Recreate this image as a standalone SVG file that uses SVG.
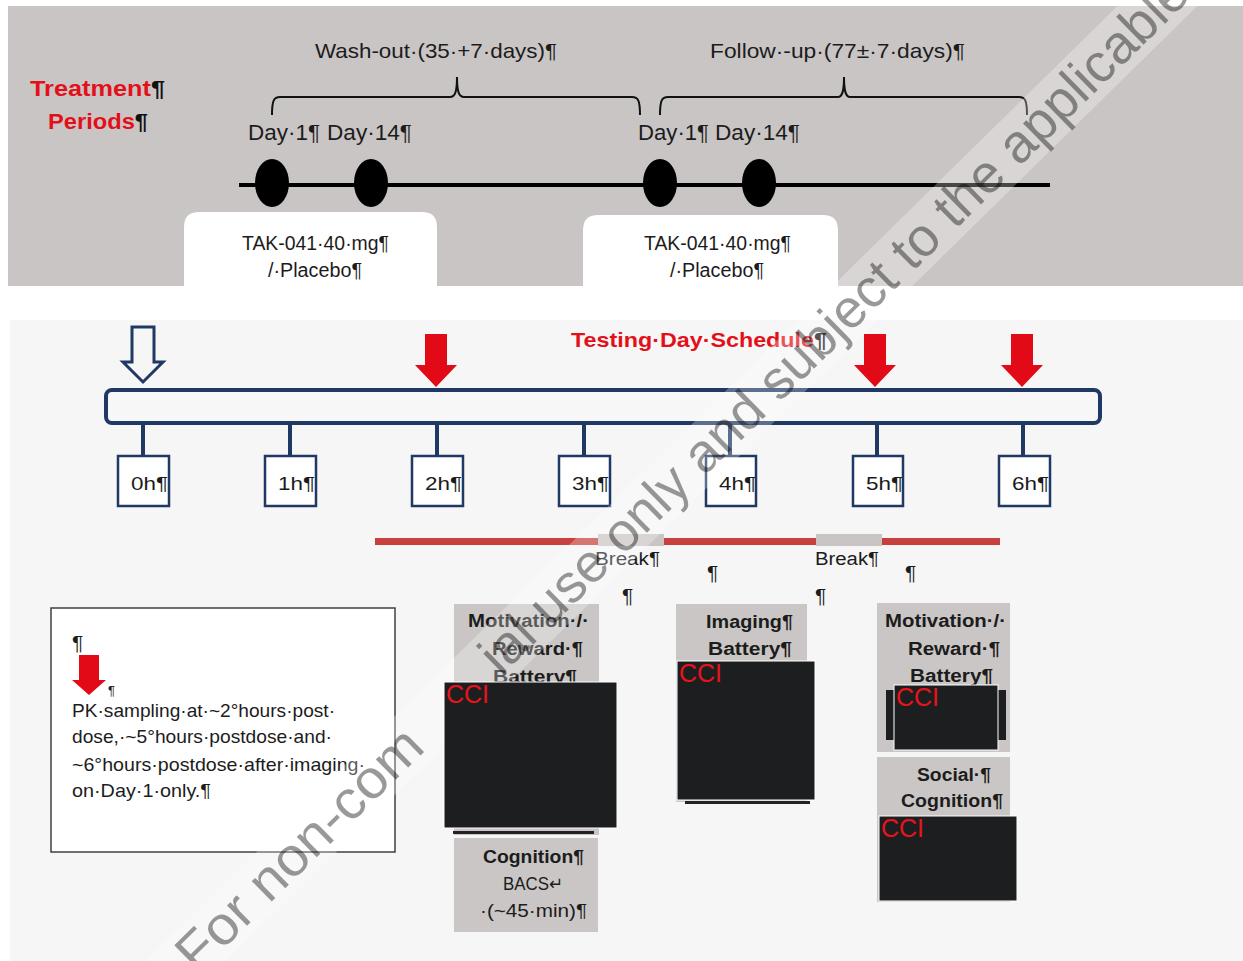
<svg xmlns="http://www.w3.org/2000/svg" width="1243" height="961" viewBox="0 0 1243 961">
<style>
 text{font-family:"Liberation Sans",Arial,sans-serif;fill:#1c1c1c}
 .red{fill:#E3101A;font-weight:bold}
 .pil{fill:#111}
 .b{font-weight:bold}
 .gbox{fill:#CAC6C5}
 .blk{fill:#1D1E20;stroke:#fff;stroke-width:1}
 .cci{fill:#E8141B;font-size:25px}
 .hb{fill:#fff;stroke:#1F3864;stroke-width:2.5}
 .tick{stroke:#1F3864;stroke-width:4}
 .br{fill:none;stroke:#111;stroke-width:2}
 .wm{font-size:54px;fill:#000;fill-opacity:0.4}
</style>
<defs>
 <path id="rarrow" d="M-11,-53H11V-22H21L0,0L-21,-22H-11Z" fill="#E30A17"/>
</defs>
<rect x="0" y="0" width="1243" height="961" fill="#fff"/>
<g id="top-panel">
 <rect x="8" y="6" width="1235" height="280" fill="#C9C5C4"/>
 <line x1="239" y1="185" x2="1050" y2="185" stroke="#000" stroke-width="4"/>
</g>
<g id="treatment-label">
 <text x="30" y="96" font-size="22" textLength="135" lengthAdjust="spacingAndGlyphs" class="red">Treatment<tspan class="pil">¶</tspan></text>
 <text x="48" y="129" font-size="22" textLength="100" lengthAdjust="spacingAndGlyphs" class="red">Periods<tspan class="pil">¶</tspan></text>
</g>
<g id="washout">
 <text x="315" y="58" font-size="21" textLength="242" lengthAdjust="spacingAndGlyphs">Wash-out·(35·+7·days)¶</text>
 <path class="br" d="M272,115C272,100 274,97 280,97L450,97C455,97 457,92 457,77C457,92 459,97 464,97L632,97C638,97 640,100 640,115"/>
</g>
<g id="followup">
 <text x="710" y="58" font-size="21" textLength="255" lengthAdjust="spacingAndGlyphs">Follow·-up·(77±·7·days)¶</text>
 <path class="br" d="M660,115C660,100 662,97 668,97L838,97C842,97 844,92 844,77C844,92 846,97 850,97L1019,97C1025,97 1027,100 1027,115"/>
</g>
<g id="period1">
 <text x="248" y="140" font-size="22" textLength="72" lengthAdjust="spacingAndGlyphs">Day·1¶</text>
 <text x="327" y="140" font-size="22" textLength="85" lengthAdjust="spacingAndGlyphs">Day·14¶</text>
 <ellipse cx="272" cy="183" rx="17" ry="24" fill="#000"/>
 <ellipse cx="371" cy="183" rx="17" ry="24" fill="#000"/>
 <path d="M184,287V227Q184,212 199,212H422Q437,212 437,227V287Z" fill="#fff"/>
 <text x="242" y="250" font-size="20" textLength="147" lengthAdjust="spacingAndGlyphs">TAK-041·40·mg¶</text>
 <text x="268" y="277" font-size="20" textLength="94" lengthAdjust="spacingAndGlyphs">/·Placebo¶</text>
</g>
<g id="period2">
 <text x="638" y="140" font-size="22" textLength="71" lengthAdjust="spacingAndGlyphs">Day·1¶</text>
 <text x="715" y="140" font-size="22" textLength="85" lengthAdjust="spacingAndGlyphs">Day·14¶</text>
 <ellipse cx="660" cy="183" rx="17" ry="24" fill="#000"/>
 <ellipse cx="759" cy="183" rx="17" ry="24" fill="#000"/>
 <path d="M583,287V230Q583,215 598,215H823Q838,215 838,230V287Z" fill="#fff"/>
 <text x="644" y="250" font-size="20" textLength="147" lengthAdjust="spacingAndGlyphs">TAK-041·40·mg¶</text>
 <text x="670" y="277" font-size="20" textLength="94" lengthAdjust="spacingAndGlyphs">/·Placebo¶</text>
</g>
<g id="bottom-panel">
 <rect x="10" y="320" width="1233" height="641" fill="#F6F6F6"/>
</g>
<g id="testing-title">
 <text x="571" y="347" font-size="21" textLength="256" lengthAdjust="spacingAndGlyphs" class="red">Testing·Day·Schedule<tspan class="pil">¶</tspan></text>
</g>
<g id="dose-arrow">
 <path d="M132,327H154V362H163L143,382L123,362H132Z" fill="#F6F6F6" stroke="#1F3864" stroke-width="3"/>
</g>
<g id="pk-arrows">
 <use href="#rarrow" x="436" y="387"/>
 <use href="#rarrow" x="875" y="387"/>
 <use href="#rarrow" x="1022" y="387"/>
</g>
<g id="timeline-bar">
 <rect x="106" y="390" width="994" height="33" rx="6" fill="#F7F7F7" stroke="#1F3864" stroke-width="4"/>
</g>
<g id="connectors">
 <line class="tick" x1="143" y1="423" x2="143" y2="457"/>
 <line class="tick" x1="290" y1="423" x2="290" y2="457"/>
 <line class="tick" x1="437" y1="423" x2="437" y2="457"/>
 <line class="tick" x1="584" y1="423" x2="584" y2="457"/>
 <line class="tick" x1="730" y1="423" x2="730" y2="457"/>
 <line class="tick" x1="877" y1="423" x2="877" y2="457"/>
 <line class="tick" x1="1023" y1="423" x2="1023" y2="457"/>
</g>
<g id="hour-0h"><rect class="hb" x="118" y="456" width="51" height="50"/><text x="131" y="490" font-size="19" textLength="37" lengthAdjust="spacingAndGlyphs">0h¶</text></g>
<g id="hour-1h"><rect class="hb" x="265" y="456" width="51" height="50"/><text x="278" y="490" font-size="19" textLength="37" lengthAdjust="spacingAndGlyphs">1h¶</text></g>
<g id="hour-2h"><rect class="hb" x="412" y="456" width="51" height="50"/><text x="425" y="490" font-size="19" textLength="37" lengthAdjust="spacingAndGlyphs">2h¶</text></g>
<g id="hour-3h"><rect class="hb" x="559" y="456" width="51" height="50"/><text x="572" y="490" font-size="19" textLength="37" lengthAdjust="spacingAndGlyphs">3h¶</text></g>
<g id="hour-4h"><rect class="hb" x="706" y="456" width="50" height="50"/><text x="719" y="490" font-size="19" textLength="37" lengthAdjust="spacingAndGlyphs">4h¶</text></g>
<g id="hour-5h"><rect class="hb" x="853" y="456" width="50" height="50"/><text x="866" y="490" font-size="19" textLength="37" lengthAdjust="spacingAndGlyphs">5h¶</text></g>
<g id="hour-6h"><rect class="hb" x="999" y="456" width="51" height="50"/><text x="1012" y="490" font-size="19" textLength="37" lengthAdjust="spacingAndGlyphs">6h¶</text></g>
<g id="progress-line">
 <rect x="375" y="538" width="625" height="7" fill="#C8403E"/>
 <rect x="598" y="534" width="66" height="12" fill="#C9C5C4"/>
 <rect x="816" y="534" width="66" height="12" fill="#C9C5C4"/>
 <text x="595" y="565" font-size="18" textLength="65" lengthAdjust="spacingAndGlyphs">Break¶</text>
 <text x="815" y="565" font-size="18" textLength="64" lengthAdjust="spacingAndGlyphs">Break¶</text>
 <text x="707" y="580" font-size="21">¶</text>
 <text x="622" y="603" font-size="21">¶</text>
 <text x="905" y="580" font-size="21">¶</text>
 <text x="815" y="603" font-size="21">¶</text>
</g>
<g id="pk-legend">
 <rect x="51" y="608" width="344" height="244" fill="#fff" stroke="#404040" stroke-width="1.5"/>
 <text x="72" y="650" font-size="21">¶</text>
 <path d="M79,655H99V680H106L89,695L72,680H79Z" fill="#E30A17"/>
 <text x="108" y="695" font-size="13">¶</text>
 <text x="72" y="717" font-size="19" textLength="263" lengthAdjust="spacingAndGlyphs">PK·sampling·at·~2°hours·post·</text>
 <text x="72" y="743" font-size="19" textLength="260" lengthAdjust="spacingAndGlyphs">dose,·~5°hours·postdose·and·</text>
 <text x="72" y="771" font-size="19" textLength="293" lengthAdjust="spacingAndGlyphs">~6°hours·postdose·after·imaging·</text>
 <text x="72" y="797" font-size="19" textLength="139" lengthAdjust="spacingAndGlyphs">on·Day·1·only.¶</text>
</g>
<g id="motivation-1">
 <rect class="gbox" x="454" y="604" width="145" height="231"/>
 <text x="468" y="627" font-size="18" class="b" textLength="121" lengthAdjust="spacingAndGlyphs">Motivation·/·</text>
 <text x="492" y="655" font-size="18" class="b" textLength="91" lengthAdjust="spacingAndGlyphs">Reward·¶</text>
 <text x="493" y="683" font-size="18" class="b" textLength="84" lengthAdjust="spacingAndGlyphs">Battery¶</text>
 <rect x="453" y="831" width="141" height="3" fill="#222"/>
</g>
<g id="cognition">
 <rect class="gbox" x="454" y="838" width="144" height="94"/>
 <text x="483" y="863" font-size="18" class="b" textLength="101" lengthAdjust="spacingAndGlyphs">Cognition¶</text>
 <text x="503" y="890" font-size="18" textLength="60" lengthAdjust="spacingAndGlyphs">BACS↵</text>
 <text x="480" y="917" font-size="18" textLength="107" lengthAdjust="spacingAndGlyphs">·(~45·min)¶</text>
</g>
<g id="imaging">
 <rect class="gbox" x="676" y="604" width="131" height="198"/>
 <text x="706" y="628" font-size="18" class="b" textLength="87" lengthAdjust="spacingAndGlyphs">Imaging¶</text>
 <text x="708" y="655" font-size="18" class="b" textLength="84" lengthAdjust="spacingAndGlyphs">Battery¶</text>
 <rect x="685" y="801" width="125" height="3" fill="#222"/>
</g>
<g id="motivation-2">
 <rect class="gbox" x="877" y="603" width="133" height="149"/>
 <text x="885" y="627" font-size="18" class="b" textLength="121" lengthAdjust="spacingAndGlyphs">Motivation·/·</text>
 <text x="908" y="655" font-size="18" class="b" textLength="92" lengthAdjust="spacingAndGlyphs">Reward·¶</text>
 <text x="910" y="682" font-size="18" class="b" textLength="83" lengthAdjust="spacingAndGlyphs">Battery¶</text>
 <rect x="886" y="690" width="120" height="50" fill="#1D1E20"/>
</g>
<g id="social-cognition">
 <rect class="gbox" x="877" y="757" width="133" height="145"/>
 <text x="917" y="781" font-size="18" class="b" textLength="74" lengthAdjust="spacingAndGlyphs">Social·¶</text>
 <text x="901" y="807" font-size="18" class="b" textLength="102" lengthAdjust="spacingAndGlyphs">Cognition¶</text>
</g>
<g id="watermark">
 <g transform="translate(197,975) rotate(-44.5)">
  <rect x="-30" y="-46" width="1460" height="56" fill="#fff" fill-opacity="0.28"/>
  <text class="wm" x="0" y="0" textLength="322" lengthAdjust="spacingAndGlyphs">For non-com</text>
  <text class="wm" x="426" y="0">ial use only and subject to the applicable</text>
 </g>
</g>
<g id="cci-1"><rect class="blk" x="444" y="682" width="173" height="146"/><text class="cci" x="446" y="703">CCI</text></g>
<g id="cci-2"><rect class="blk" x="677" y="661" width="138" height="139"/><text class="cci" x="679" y="682">CCI</text></g>
<g id="cci-3"><rect class="blk" x="894" y="685" width="104" height="65"/><text class="cci" x="896" y="706">CCI</text></g>
<g id="cci-4"><rect class="blk" x="879" y="816" width="138" height="85"/><text class="cci" x="881" y="837">CCI</text></g>
</svg>
